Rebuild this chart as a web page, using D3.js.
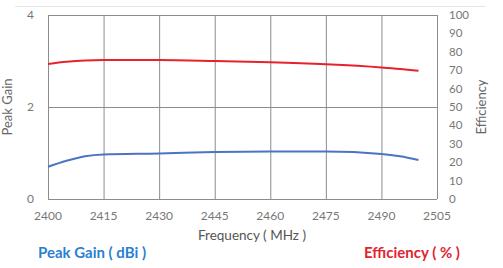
<!DOCTYPE html>
<html>
<head>
<meta charset="utf-8">
<script src="https://cdnjs.cloudflare.com/ajax/libs/d3/7.8.5/d3.min.js"></script>
<style>
  body { margin: 0; background: #fff; }
  svg { font-family: Lato, "Open Sans", sans-serif; }
</style>
</head>
<body>
<svg id="chart" width="503" height="268"></svg>
<script>
(function () {
    var width = 503, height = 268;

    // values
    var freqs = [2400, 2405, 2410, 2415, 2430, 2445, 2460, 2475, 2490, 2495, 2500];
    var gain = [0.70, 0.83, 0.93, 0.97, 0.99, 1.02, 1.03, 1.03, 0.98, 0.93, 0.85];
    var efficiency = [73.4, 74.6, 75.3, 75.5, 75.5, 75.0, 74.3, 73.2, 71.5, 70.7, 69.7];
    var xTicks = [2400, 2415, 2430, 2445, 2460, 2475, 2490, 2505];
    var gainTicks = [0, 2, 4];
    var effTicks = [0, 10, 20, 30, 40, 50, 60, 70, 80, 90, 100];

    var margin = { left: 48, right: 66, top: 15, bottom: 69 };

    var x = d3.scaleLinear().domain([2400, 2505]).range([margin.left, width - margin.right]);
    var yG = d3.scaleLinear().domain([0, 4]).range([height - margin.bottom, margin.top]);
    var yE = d3.scaleLinear().domain([0, 100]).range([height - margin.bottom, margin.top]);

    var svg = d3.select("#chart");

    // faint frame line at the top
    svg.append("line")
        .attr("x1", 15).attr("x2", 486).attr("y1", 6.5).attr("y2", 6.5)
        .attr("stroke", "#e6e6e6");

    // grid
    svg.append("g").selectAll("line").data(xTicks).join("line")
        .attr("x1", d => x(d) + 0.5).attr("x2", d => x(d) + 0.5)
        .attr("y1", yG(4)).attr("y2", yG(0))
        .attr("stroke", "#8c8c8c");
    svg.append("g").selectAll("line").data(gainTicks).join("line")
        .attr("x1", x(2400)).attr("x2", x(2505))
        .attr("y1", d => yG(d) + 0.5).attr("y2", d => yG(d) + 0.5)
        .attr("stroke", "#8c8c8c");

    // axis labels
    svg.append("g").selectAll("text").data(xTicks).join("text")
        .attr("x", d => x(d)).attr("y", 220)
        .attr("text-anchor", "middle")
        .attr("font-size", 12).attr("fill", "#777")
        .text(d => d);
    svg.append("g").selectAll("text").data(gainTicks).join("text")
        .attr("x", 34).attr("y", d => yG(d) + 4)
        .attr("text-anchor", "end")
        .attr("font-size", 12).attr("fill", "#777")
        .text(d => d);
    svg.append("g").selectAll("text").data(effTicks).join("text")
        .attr("x", 449).attr("y", d => yE(d) + 4)
        .attr("font-size", 11.5).attr("fill", "#777")
        .text(d => d);

    // axis titles
    svg.append("text")
        .attr("transform", "translate(12," + yG(2) + ") rotate(-90)")
        .attr("text-anchor", "middle")
        .attr("font-size", 13).attr("fill", "#666")
        .text("Peak Gain");
    svg.append("text")
        .attr("transform", "translate(486," + yE(50) + ") rotate(-90)")
        .attr("text-anchor", "middle")
        .attr("font-size", 13).attr("fill", "#666")
        .text("Efficiency");
    svg.append("text")
        .attr("x", 252).attr("y", 240)
        .attr("text-anchor", "middle")
        .attr("font-size", 13.5).attr("fill", "#555")
        .text("Frequency ( MHz )");

    // lines
    var gainLine = d3.line()
        .x((d, i) => x(freqs[i]))
        .y(d => yG(d))
        .curve(d3.curveMonotoneX);
    var effLine = d3.line()
        .x((d, i) => x(freqs[i]))
        .y(d => yE(d))
        .curve(d3.curveMonotoneX);

    svg.append("path").attr("d", gainLine(gain))
        .attr("fill", "none").attr("stroke", "#4a74c4").attr("stroke-width", 2);
    svg.append("path").attr("d", effLine(efficiency))
        .attr("fill", "none").attr("stroke", "#e8222c").attr("stroke-width", 2);

    // legend-ish captions
    svg.append("text")
        .attr("x", 38).attr("y", 258)
        .attr("font-size", 15).attr("font-weight", "bold").attr("fill", "#2a7fd4")
        .text("Peak Gain ( dBi )");
    svg.append("text")
        .attr("x", 364).attr("y", 258)
        .attr("font-size", 15).attr("font-weight", "bold").attr("fill", "#e3242f")
        .text("Efficiency ( % )");
})();
</script>
</body>
</html>
